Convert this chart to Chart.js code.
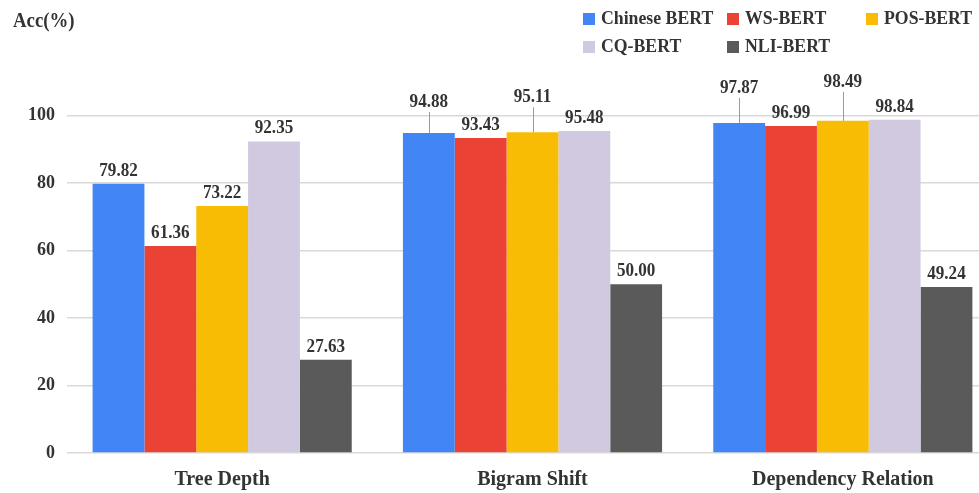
<!DOCTYPE html>
<html>
<head>
<meta charset="utf-8">
<script src="https://cdn.jsdelivr.net/npm/chart.js@4/dist/chart.umd.min.js"></script>
<style>
  html, body { margin: 0; padding: 0; background: #fff; overflow: hidden; }
  #wrap { width: 1000px; height: 493px; }
</style>
</head>
<body>
<div id="wrap"><canvas id="c" width="1000" height="493"></canvas></div>
<script>
// Probing tasks and accuracy (%) for each BERT variant
const categories = ['Tree Depth', 'Bigram Shift', 'Dependency Relation'];
const seriesNames = ['Chinese BERT', 'WS-BERT', 'POS-BERT', 'CQ-BERT', 'NLI-BERT'];
const chineseBert = [79.82, 94.88, 97.87];
const wsBert      = [61.36, 93.43, 96.99];
const posBert     = [73.22, 95.11, 98.49];
const cqBert      = [92.35, 95.48, 98.84];
const nliBert     = [27.63, 50.00, 49.24];
const yTicks      = [0, 20, 40, 60, 80, 100];

const colors = ['#4285F4', '#EA4335', '#F9BC05', '#D1C9DF', '#5A5A5A'];
const seriesValues = [chineseBert, wsBert, posBert, cqBert, nliBert];

const FONT = '"Liberation Serif", "Times New Roman", serif';
const TEXT = '#333333';

// labels that sit higher than usual, drawn with a leader line: [dataset, index, lift px]
const raisedLabels = [[0, 1, 31], [2, 1, 35], [0, 2, 35], [2, 2, 39]];

// bold serif text, slightly condensed horizontally
function drawText(ctx, text, x, y, size, align, sx) {
  ctx.save();
  ctx.font = 'bold ' + size + 'px ' + FONT;
  ctx.textAlign = align;
  ctx.textBaseline = 'middle';
  ctx.fillStyle = TEXT;
  ctx.translate(x, y);
  ctx.scale(sx, 1);
  ctx.fillText(text, 0, 0);
  ctx.restore();
}

const valueLabels = {
  id: 'valueLabels',
  afterDatasetsDraw(chart) {
    const ctx = chart.ctx;
    chart.data.datasets.forEach((ds, i) => {
      const meta = chart.getDatasetMeta(i);
      meta.data.forEach((bar, j) => {
        const raised = raisedLabels.find(r => r[0] === i && r[1] === j);
        const lift = raised ? raised[2] : 13;
        const cy = bar.y - lift;
        if (raised) {
          ctx.save();
          ctx.strokeStyle = '#9a9a9a';
          ctx.lineWidth = 1;
          ctx.beginPath();
          ctx.moveTo(Math.round(bar.x) + 0.5, cy + 10);
          ctx.lineTo(Math.round(bar.x) + 0.5, bar.y);
          ctx.stroke();
          ctx.restore();
        }
        drawText(ctx, ds.data[j].toFixed(2), bar.x, cy, 19, 'center', 0.9);
      });
    });
  }
};

const headerAndLegend = {
  id: 'headerAndLegend',
  afterDraw(chart) {
    const ctx = chart.ctx;
    drawText(ctx, 'Acc(%)', 13, 22, 20, 'left', 0.94);
    const slots = [[583, 19], [727, 19], [866, 19], [583, 47], [727, 47]];
    chart.data.datasets.forEach((ds, i) => {
      const [x, y] = slots[i];
      ctx.fillStyle = ds.backgroundColor;
      ctx.fillRect(x, y - 6, 12, 12);
      drawText(ctx, ds.label, x + 18, y, 19.5, 'left', 0.91);
    });
  }
};

new Chart(document.getElementById('c'), {
  type: 'bar',
  data: {
    labels: categories,
    datasets: seriesNames.map((name, i) => ({
      label: name,
      data: seriesValues[i],
      backgroundColor: colors[i],
      borderWidth: 0,
      categoryPercentage: 0.835,
      barPercentage: 1.0
    }))
  },
  options: {
    responsive: false,
    animation: false,
    devicePixelRatio: 1,
    layout: { padding: { top: 82, right: 2, bottom: 0, left: 0 } },
    plugins: { legend: { display: false }, tooltip: { enabled: false } },
    scales: {
      x: {
        afterFit(scale) { scale.height = 40; },
        grid: { display: false, drawTicks: false },
        border: { display: false },
        ticks: { color: TEXT, font: { family: FONT, size: 20, weight: 'bold' }, padding: 15 }
      },
      y: {
        min: 0,
        max: 110,
        afterBuildTicks(scale) { scale.ticks = yTicks.map(v => ({ value: v })); },
        afterFit(scale) { scale.width = 67; },
        grid: { color: '#d9d9d9', lineWidth: 1.5, drawTicks: false },
        border: { display: false },
        ticks: { color: TEXT, font: { family: FONT, size: 18, weight: 'bold' }, padding: 12 }
      }
    }
  },
  plugins: [valueLabels, headerAndLegend]
});
</script>
</body>
</html>
